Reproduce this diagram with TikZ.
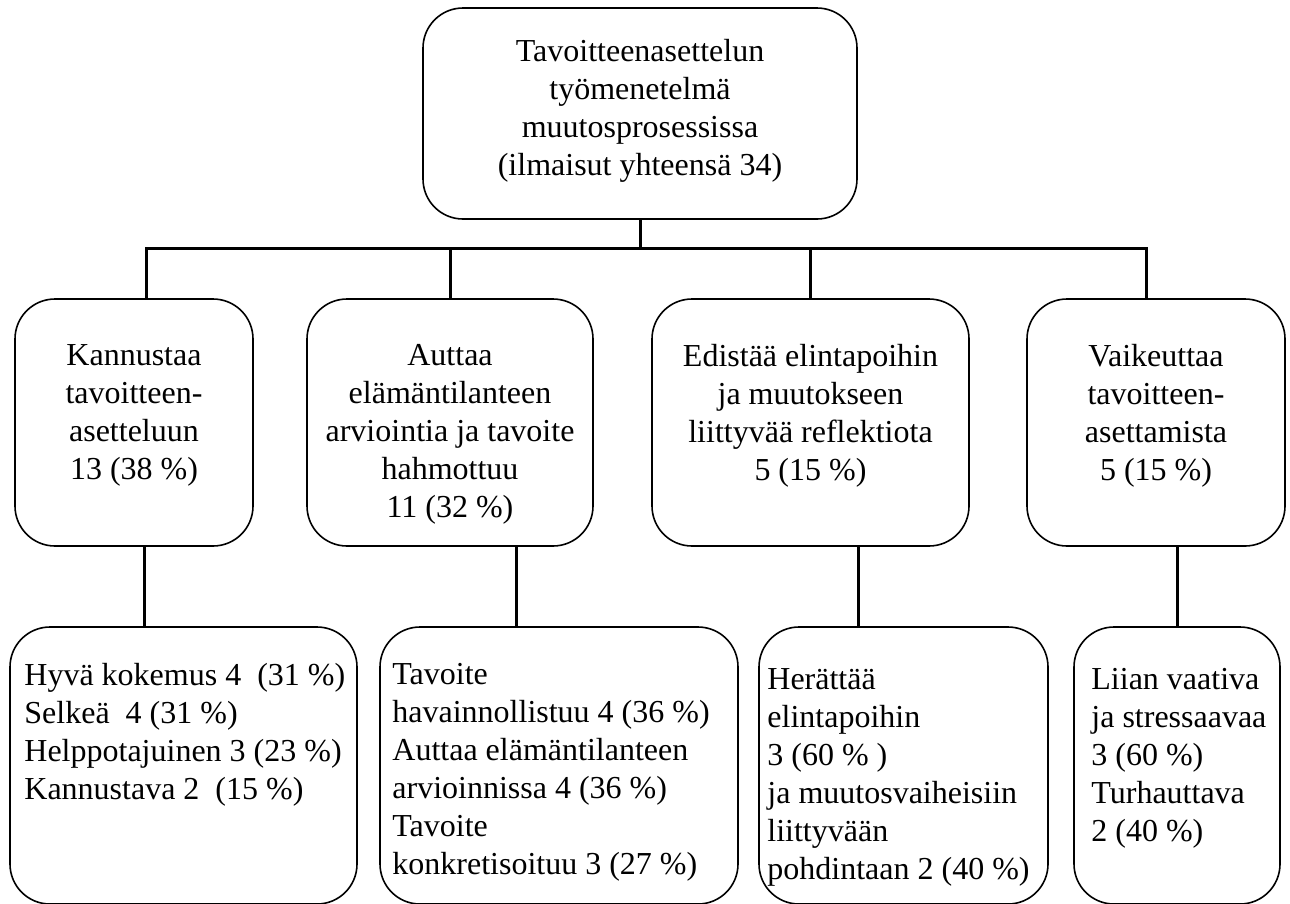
\documentclass[tikz,border=0pt]{standalone}
\usepackage{fontspec}
\setmainfont{Liberation Serif}
\begin{document}
\begin{tikzpicture}[x=1pt,y=-1pt,
  box/.style={draw,line width=1.6pt,rounded corners=40pt,inner sep=0pt},
  txt/.style={inner sep=0pt,font=\fontsize{32}{38}\selectfont},
  link/.style={line width=3pt}]
\useasboundingbox (0,0) rectangle (1290,903);
% top
\node[box,minimum width=434pt,minimum height=211pt] (top) at (640,113.5) {};
\node[txt,align=center,anchor=north] (topt) at ([yshift=-32pt]top.north)
  {Tavoitteenasettelun\\työmenetelmä\\muutosprosessissa\\(ilmaisut yhteensä 34)};
% middle row
\node[box,minimum width=238pt,minimum height=247pt] (kan) at (134,422.5) {};
\node[box,minimum width=286pt,minimum height=247pt] (aut) at (450,422.5) {};
\node[box,minimum width=317pt,minimum height=247pt] (edi) at (810.5,422.5) {};
\node[box,minimum width=258pt,minimum height=247pt] (vai) at (1156,422.5) {};
\node[txt,align=center,anchor=north] (kant) at ([yshift=-46pt]kan.north)
  {Kannustaa\\tavoitteen-\\asetteluun\\13 (38 \%)};
\node[txt,align=center,anchor=north] (autt) at ([yshift=-46pt]aut.north)
  {Auttaa\\elämäntilanteen\\arviointia ja tavoite\\hahmottuu\\11 (32 \%)};
\node[txt,align=center,anchor=north] (edit) at ([yshift=-46pt]edi.north)
  {Edistää elintapoihin\\ja muutokseen\\liittyvää reflektiota\\5 (15 \%)};
\node[txt,align=center,anchor=north] (vait) at ([yshift=-46pt]vai.north)
  {Vaikeuttaa\\tavoitteen-\\asettamista\\5 (15 \%)};
% bottom row
\node[box,minimum width=347pt,minimum height=277pt] (hyv) at (183.5,765.5) {};
\node[box,minimum width=358pt,minimum height=277pt] (tav) at (559,765.5) {};
\node[box,minimum width=289pt,minimum height=277pt] (her) at (903.5,765.5) {};
\node[box,minimum width=206pt,minimum height=277pt] (lii) at (1177,765.5) {};
\node[txt,align=left,anchor=north west] (hyvt) at ([xshift=15pt,yshift=-37pt]hyv.north west)
  {Hyvä kokemus 4~~(31 \%)\\Selkeä~~4 (31 \%)\\Helppotajuinen 3 (23 \%)\\Kannustava 2~~(15 \%)};
\node[txt,align=left,anchor=north west] (tavt) at ([xshift=13pt,yshift=-37pt]tav.north west)
  {Tavoite\\havainnollistuu 4 (36 \%)\\Auttaa elämäntilanteen\\arvioinnissa 4 (36 \%)\\Tavoite\\konkretisoituu 3 (27 \%)};
\node[txt,align=left,anchor=north west] (hert) at ([xshift=9pt,yshift=-42pt]her.north west)
  {Herättää\\elintapoihin\\3 (60 \% )\\ja muutosvaiheisiin\\liittyvään\\pohdintaan 2 (40 \%)};
\node[txt,align=left,anchor=north west] (liit) at ([xshift=18pt,yshift=-42pt]lii.north west)
  {Liian vaativa\\ja stressaavaa\\3 (60 \%)\\Turhauttava\\2 (40 \%)};
% connectors
\coordinate (bar) at (640,248);
\coordinate (d1) at ([xshift=12pt]kan.north);
\coordinate (d4) at ([xshift=-10pt]vai.north);
\draw[link] (top.south) -- (bar);
\draw[link] (d1) |- (bar) -| (d4);
\draw[link] (aut.north) -- (aut.north |- bar);
\draw[link] (edi.north) -- (edi.north |- bar);
\coordinate (c1) at ([xshift=10pt]kan.south);
\coordinate (c2) at ([xshift=66pt]aut.south);
\coordinate (c3) at ([xshift=47.5pt]edi.south);
\draw[link] (c1) -- (c1 |- hyv.north);
\draw[link] (c2) -- (c2 |- tav.north);
\draw[link] (c3) -- (c3 |- her.north);
\draw[link] (lii.north) -- (lii.north |- vai.south);
\end{tikzpicture}
\end{document}
